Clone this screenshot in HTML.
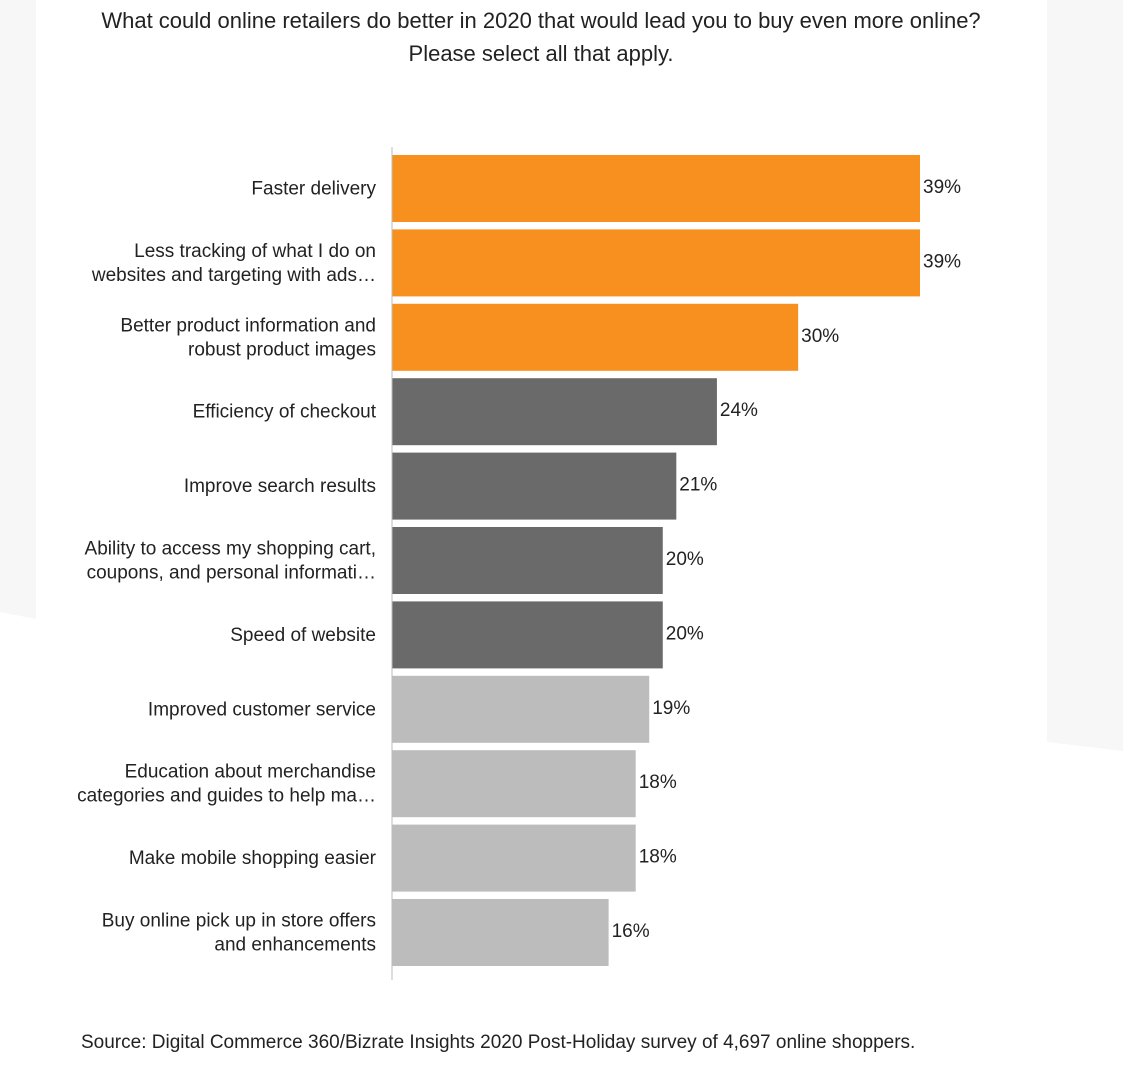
<!DOCTYPE html>
<html><head><meta charset="utf-8"><style>
body{margin:0;background:#fff;font-family:"Liberation Sans",sans-serif;}
svg text{font-family:"Liberation Sans",sans-serif;fill:#222;}
</style></head><body>
<svg id="chart" width="1123" height="1074" xmlns="http://www.w3.org/2000/svg">
<polygon points="0,0 36,0 36,619 0,612" fill="#f7f7f7"/>
<polygon points="1047,0 1123,0 1123,751 1047,742" fill="#f7f7f7"/>
<text x="541" y="28" text-anchor="middle" font-size="22">What could online retailers do better in 2020 that would lead you to buy even more online?</text>
<text x="541" y="61" text-anchor="middle" font-size="22">Please select all that apply.</text>
<g id="bars"></g>
<line x1="392" y1="147" x2="392" y2="980" stroke="#bbb" stroke-width="1"/>
<text x="81" y="1048" font-size="19">Source: Digital Commerce 360/Bizrate Insights 2020 Post-Holiday survey of 4,697 online shoppers.</text>
</svg>
<script>
const categories=[["Faster delivery"],["Less tracking of what I do on","websites and targeting with ads…"],["Better product information and","robust product images"],["Efficiency of checkout"],["Improve search results"],["Ability to access my shopping cart,","coupons, and personal informati…"],["Speed of website"],["Improved customer service"],["Education about merchandise","categories and guides to help ma…"],["Make mobile shopping easier"],["Buy online pick up in store offers","and enhancements"]];
const values=[39,39,30,24,21,20,20,19,18,18,16];
const colorGroups=["#f7901e","#f7901e","#f7901e","#6a6a6a","#6a6a6a","#6a6a6a","#6a6a6a","#bcbcbc","#bcbcbc","#bcbcbc","#bcbcbc"];
const x0=392, pxPer=528/39, top0=155, pitch=74.4, bh=67;
const xScale=v=>x0+v*pxPer;
const yScale=i=>top0+i*pitch;
const g=document.getElementById('bars');
const NS="http://www.w3.org/2000/svg";
values.forEach((v,i)=>{
  const y=yScale(i);
  const r=document.createElementNS(NS,'rect');
  r.setAttribute('x',x0);r.setAttribute('y',y);
  r.setAttribute('width',xScale(v)-x0);r.setAttribute('height',bh);
  r.setAttribute('fill',colorGroups[i]);
  
  
  g.appendChild(r);
  const t=document.createElementNS(NS,'text');
  t.setAttribute('x',xScale(v)+3);t.setAttribute('y',y+38);
  t.setAttribute('font-size','19');
  t.textContent=v+'%';
  
  
  g.appendChild(t);
  const lines=categories[i];
  const cy=y+bh/2;
  lines.forEach((ln,j)=>{
    const l=document.createElementNS(NS,'text');
    l.setAttribute('x',376);
    l.setAttribute('y',cy+6+(j-(lines.length-1)/2)*24);
    l.setAttribute('text-anchor','end');l.setAttribute('font-size','19');
    l.textContent=ln;
    
    
    g.appendChild(l);
  });
});
</script>
</body></html>
